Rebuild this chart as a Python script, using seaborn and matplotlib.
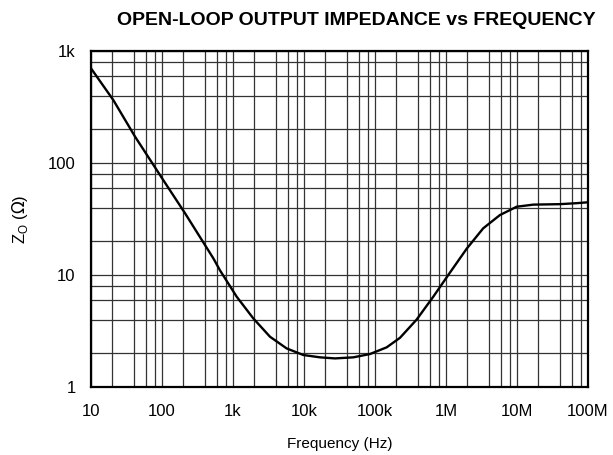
import matplotlib
matplotlib.use("Agg")
import matplotlib.pyplot as plt
import seaborn as sns
import pandas as pd
from matplotlib.ticker import FixedLocator, NullFormatter

# values
freq_hz = [10, 20.6, 41.7, 104, 211, 528, 656, 1127, 1930, 3320, 5700, 9790,
           16800, 27300, 49500, 85000, 146000, 225000, 386000, 662000, 1.1e6,
           1.96e6, 3.34e6, 5.75e6, 9.9e6, 1.7e7, 4.0e7, 7.0e7, 1.0e8]
z_ohm = [700, 365, 172, 70.5, 35.6, 14.1, 11.0, 6.4, 4.1, 2.81, 2.21, 1.93,
         1.84, 1.80, 1.84, 1.97, 2.26, 2.75, 4.0, 6.4, 10.2,
         17.2, 26.1, 34.3, 40.7, 42.5, 42.9, 43.8, 44.6]

x_ticks = [10, 100, 1e3, 1e4, 1e5, 1e6, 1e7, 1e8]
x_labels = ["10", "100", "1k", "10k", "100k", "1M", "10M", "100M"]
y_ticks = [1, 10, 100, 1000]
y_labels = ["1", "10", "100", "1k"]

sns.set_style("white")
plt.rcParams["font.family"] = ["Liberation Sans", "DejaVu Sans"]
plt.rcParams["text.color"] = "black"
plt.rcParams["axes.labelcolor"] = "black"

df = pd.DataFrame({"freq": freq_hz, "z": z_ohm})

fig = plt.figure(figsize=(6.13, 4.55), dpi=100)
ax = fig.add_axes([91 / 613, 1 - 387 / 455, (588 - 91) / 613, (387 - 51) / 455])

sns.lineplot(data=df, x="freq", y="z", ax=ax, color="black", linewidth=1.7)
ax.set_xscale("log")
ax.set_yscale("log")
ax.set_xlim(10, 1e8)
ax.set_ylim(1, 1000)

minor_x = [m * 10**d for d in range(1, 8) for m in (2, 4, 6, 8)]
minor_y = [m * 10**d for d in range(0, 3) for m in (2, 4, 6, 8)]
ax.xaxis.set_major_locator(FixedLocator(x_ticks))
ax.xaxis.set_minor_locator(FixedLocator(minor_x))
ax.yaxis.set_major_locator(FixedLocator(y_ticks))
ax.yaxis.set_minor_locator(FixedLocator(minor_y))
ax.set_xticklabels(x_labels)
ax.set_yticklabels(y_labels)
ax.xaxis.set_minor_formatter(NullFormatter())
ax.yaxis.set_minor_formatter(NullFormatter())

ax.grid(True, which="both", color="#333333", linewidth=0.9)
ax.tick_params(which="both", length=0, labelsize=12, colors="black")
ax.tick_params(axis="x", pad=12)
ax.tick_params(axis="y", pad=11)
for s in ax.spines.values():
    s.set_color("black")
    s.set_linewidth(1.6)

ax.set_xlabel("Frequency (Hz)", fontsize=11, labelpad=13)
ax.set_ylabel(r"Z$_\mathregular{O}$ ($\Omega$)", fontsize=12, labelpad=13)
ax.set_title("OPEN-LOOP OUTPUT IMPEDANCE vs FREQUENCY", fontsize=14,
             fontweight="bold", pad=19, x=0.534)

fig.savefig("out.png", dpi=100)
